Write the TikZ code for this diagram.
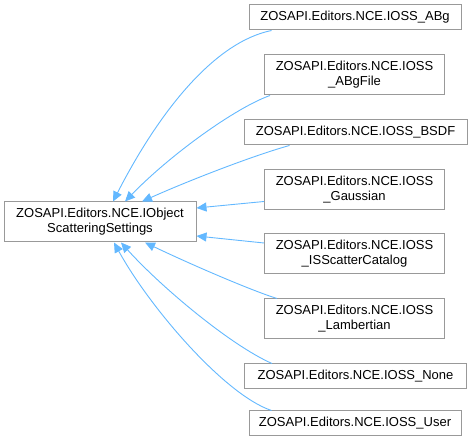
\documentclass[tikz,border=0pt]{standalone}
\usepackage{fontspec}
\setmainfont{Liberation Sans}
\usetikzlibrary{arrows.meta}
\definecolor{edgeblue}{HTML}{63B8FF}
\definecolor{boxgray}{HTML}{999999}

\begin{document}
\begin{tikzpicture}[x=1pt,y=-1pt,
    cls/.style={draw=boxgray,line width=1pt,fill=white,align=center,inner sep=0pt,
      font=\fontsize{13}{15}\selectfont},
    inh/.style={draw=edgeblue,line width=0.9pt,-{Triangle[length=10pt,width=9pt]}}]
        \useasboundingbox (0,0) rectangle (472,443);
        % base class
        \node[cls,minimum width=192pt,minimum height=40pt] (base) at (100,222) {ZOSAPI.Editors.NCE.IObject\\ScatteringSettings};
        % derived classes
        \node[cls,minimum width=212pt,minimum height=25pt] (abg) at (355,17.5) {ZOSAPI.Editors.NCE.IOSS\_ABg};
        \node[cls,minimum width=180pt,minimum height=40pt] (abgfile) at (354.5,75) {ZOSAPI.Editors.NCE.IOSS\\\_ABgFile};
        \node[cls,minimum width=223pt,minimum height=25pt] (bsdf) at (355.5,132.5) {ZOSAPI.Editors.NCE.IOSS\_BSDF};
        \node[cls,minimum width=180pt,minimum height=40pt] (gaussian) at (354.5,189.5) {ZOSAPI.Editors.NCE.IOSS\\\_Gaussian};
        \node[cls,minimum width=180pt,minimum height=40pt] (isscatter) at (354.5,254) {ZOSAPI.Editors.NCE.IOSS\\\_ISScatterCatalog};
        \node[cls,minimum width=180pt,minimum height=40pt] (lambertian) at (354.5,319) {ZOSAPI.Editors.NCE.IOSS\\\_Lambertian};
        \node[cls,minimum width=222pt,minimum height=25pt] (none) at (355.5,376.5) {ZOSAPI.Editors.NCE.IOSS\_None};
        \node[cls,minimum width=212pt,minimum height=25pt] (user) at (355,423.5) {ZOSAPI.Editors.NCE.IOSS\_User};
        % inheritance edges
        \draw[inh] ([xshift=23pt]abg.south west) .. controls (215,42) and (160,110) .. ([xshift=13pt]base.north);
        \draw[inh] ([xshift=6pt]abgfile.south west) .. controls (235,108) and (170,155) .. ([xshift=25pt]base.north);
        \draw[inh] ([xshift=46pt]bsdf.south west) .. controls (255,155) and (190,180) .. ([xshift=42pt]base.north);
        \draw[inh] ([yshift=-12pt]gaussian.west) -- ([yshift=14pt]base.east);
        \draw[inh] ([yshift=11pt]isscatter.west) -- ([yshift=-14pt]base.east);
        \draw[inh] ([xshift=13pt]lambertian.north west) .. controls (250,290) and (190,264) .. ([xshift=45pt]base.south);
        \draw[inh] ([xshift=28pt]none.north west) .. controls (230,345) and (160,286) .. ([xshift=21pt]base.south);
        \draw[inh] ([xshift=23pt]user.north west) .. controls (225,395) and (150,308) .. ([xshift=14pt]base.south);
    \end{tikzpicture}
\end{document}
